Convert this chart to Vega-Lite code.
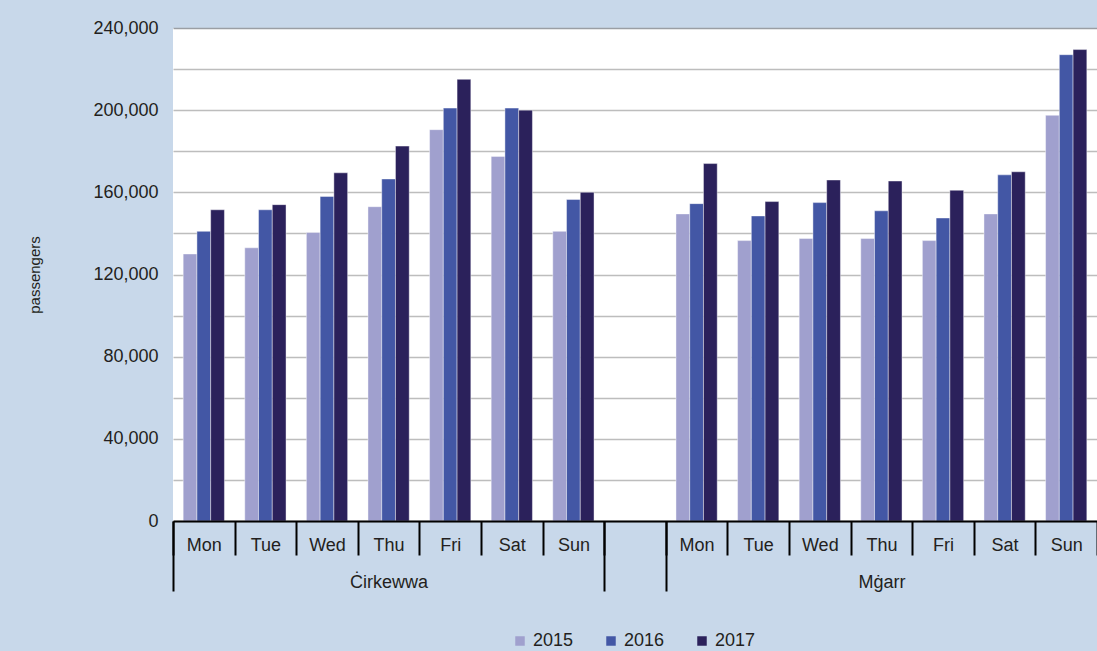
{
  "$schema": "https://vega.github.io/schema/vega-lite/v6.json",
  "width": 924,
  "height": 493,
  "autosize": {"type": "none"},
  "padding": {"left": 173, "top": 28, "right": 0, "bottom": 130},
  "background": "#c8d8ea",
  "config": {
    "view": {"fill": "white", "stroke": null},
    "font": "Liberation Sans",
    "axis": {"labelFont": "Liberation Sans", "titleFont": "Liberation Sans", "labelColor": "#231f20", "titleColor": "#231f20"},
    "legend": {"labelFont": "Liberation Sans", "labelColor": "#231f20"}
  },
  "layer": [
    {
      "data": {
        "values": [
          {"slot": "C|Mon", "year": "2015", "passengers": 130000},
          {"slot": "C|Mon", "year": "2016", "passengers": 141000},
          {"slot": "C|Mon", "year": "2017", "passengers": 151500},
          {"slot": "C|Tue", "year": "2015", "passengers": 133000},
          {"slot": "C|Tue", "year": "2016", "passengers": 151500},
          {"slot": "C|Tue", "year": "2017", "passengers": 154000},
          {"slot": "C|Wed", "year": "2015", "passengers": 140500},
          {"slot": "C|Wed", "year": "2016", "passengers": 158000},
          {"slot": "C|Wed", "year": "2017", "passengers": 169500},
          {"slot": "C|Thu", "year": "2015", "passengers": 153000},
          {"slot": "C|Thu", "year": "2016", "passengers": 166500},
          {"slot": "C|Thu", "year": "2017", "passengers": 182500},
          {"slot": "C|Fri", "year": "2015", "passengers": 190500},
          {"slot": "C|Fri", "year": "2016", "passengers": 201000},
          {"slot": "C|Fri", "year": "2017", "passengers": 215000},
          {"slot": "C|Sat", "year": "2015", "passengers": 177500},
          {"slot": "C|Sat", "year": "2016", "passengers": 201000},
          {"slot": "C|Sat", "year": "2017", "passengers": 200000},
          {"slot": "C|Sun", "year": "2015", "passengers": 141000},
          {"slot": "C|Sun", "year": "2016", "passengers": 156500},
          {"slot": "C|Sun", "year": "2017", "passengers": 160000},
          {"slot": "M|Mon", "year": "2015", "passengers": 149500},
          {"slot": "M|Mon", "year": "2016", "passengers": 154500},
          {"slot": "M|Mon", "year": "2017", "passengers": 174000},
          {"slot": "M|Tue", "year": "2015", "passengers": 136500},
          {"slot": "M|Tue", "year": "2016", "passengers": 148500},
          {"slot": "M|Tue", "year": "2017", "passengers": 155500},
          {"slot": "M|Wed", "year": "2015", "passengers": 137500},
          {"slot": "M|Wed", "year": "2016", "passengers": 155000},
          {"slot": "M|Wed", "year": "2017", "passengers": 166000},
          {"slot": "M|Thu", "year": "2015", "passengers": 137500},
          {"slot": "M|Thu", "year": "2016", "passengers": 151000},
          {"slot": "M|Thu", "year": "2017", "passengers": 165500},
          {"slot": "M|Fri", "year": "2015", "passengers": 136500},
          {"slot": "M|Fri", "year": "2016", "passengers": 147500},
          {"slot": "M|Fri", "year": "2017", "passengers": 161000},
          {"slot": "M|Sat", "year": "2015", "passengers": 149500},
          {"slot": "M|Sat", "year": "2016", "passengers": 168500},
          {"slot": "M|Sat", "year": "2017", "passengers": 170000},
          {"slot": "M|Sun", "year": "2015", "passengers": 197500},
          {"slot": "M|Sun", "year": "2016", "passengers": 227000},
          {"slot": "M|Sun", "year": "2017", "passengers": 229500}
        ]
      },
      "mark": {"type": "bar", "stroke": "white", "strokeWidth": 0.6, "strokeOpacity": 0.7},
      "encoding": {
        "x": {
          "field": "slot",
          "type": "nominal",
          "sort": null,
          "scale": {
            "domain": ["C|Mon", "C|Tue", "C|Wed", "C|Thu", "C|Fri", "C|Sat", "C|Sun", "|", "M|Mon", "M|Tue", "M|Wed", "M|Thu", "M|Fri", "M|Sat", "M|Sun"],
            "paddingInner": 0,
            "paddingOuter": 0
          },
          "axis": {
            "orient": "bottom",
            "title": null,
            "labelExpr": "split(datum.label, '|')[1]",
            "labelAngle": 0,
            "labelFontSize": 18,
            "labelPadding": -19,
            "tickBand": "extent",
            "tickSize": 34,
            "tickWidth": 2,
            "tickColor": "#000000",
            "domainColor": "#000000",
            "domainWidth": 2,
            "zindex": 1
          }
        },
        "xOffset": {"field": "year", "type": "nominal", "scale": {"paddingInner": 0, "paddingOuter": 0.74}},
        "y": {
          "field": "passengers",
          "type": "quantitative",
          "scale": {"domain": [0, 240000], "nice": false},
          "axis": {
            "title": "passengers",
            "titleFontSize": 15,
            "titleFontWeight": "normal",
            "titlePadding": 50,
            "values": [0, 20000, 40000, 60000, 80000, 100000, 120000, 140000, 160000, 180000, 200000, 220000, 240000],
            "labelExpr": "datum.value % 40000 === 0 ? format(datum.value, ',') : ''",
            "labelFontSize": 18,
            "labelPadding": 15,
            "ticks": false,
            "domain": false,
            "gridColor": {"condition": {"test": "datum.value === 240000", "value": "#9a9ea4"}, "value": "#bdbdbd"},
            "gridWidth": 1.6
          }
        },
        "color": {
          "field": "year",
          "type": "nominal",
          "scale": {"domain": ["2015", "2016", "2017"], "range": ["#a0a0ce", "#4357a5", "#2b215b"]},
          "legend": {
            "title": null,
            "orient": "none",
            "direction": "horizontal",
            "legendX": 338,
            "legendY": 604,
            "padding": 0,
            "symbolType": "square",
            "symbolSize": 90,
            "symbolStrokeWidth": 0,
            "labelFontSize": 18,
            "labelOffset": 4,
            "columnPadding": 28
          }
        }
      }
    },
    {
      "data": {
        "values": [
          {"pos": 0, "group": ""},
          {"pos": 3.5, "group": "Ċirkewwa"},
          {"pos": 7, "group": ""},
          {"pos": 8, "group": ""},
          {"pos": 11.5, "group": "Mġarr"},
          {"pos": 15, "group": ""}
        ]
      },
      "mark": {"type": "rule", "opacity": 0},
      "encoding": {
        "x": {
          "field": "pos",
          "type": "quantitative",
          "scale": {"domain": [0, 15], "nice": false, "zero": false},
          "axis": {
            "orient": "bottom",
            "title": null,
            "values": [0, 3.5, 7, 8, 11.5],
            "labelExpr": "datum.value === 3.5 ? 'Ċirkewwa' : (datum.value === 11.5 ? 'Mġarr' : '')",
            "labelFontSize": 18,
            "labelPadding": -18,
            "labelFlush": false,
            "labelOverlap": false,
            "tickSize": 70,
            "tickWidth": 2,
            "tickColor": "#000000",
            "tickOpacity": {"condition": {"test": "datum.value === 3.5 || datum.value === 11.5", "value": 0}, "value": 1},
            "domain": false,
            "grid": false,
            "zindex": 1
          }
        }
      }
    }
  ],
  "resolve": {"scale": {"x": "independent"}}
}
